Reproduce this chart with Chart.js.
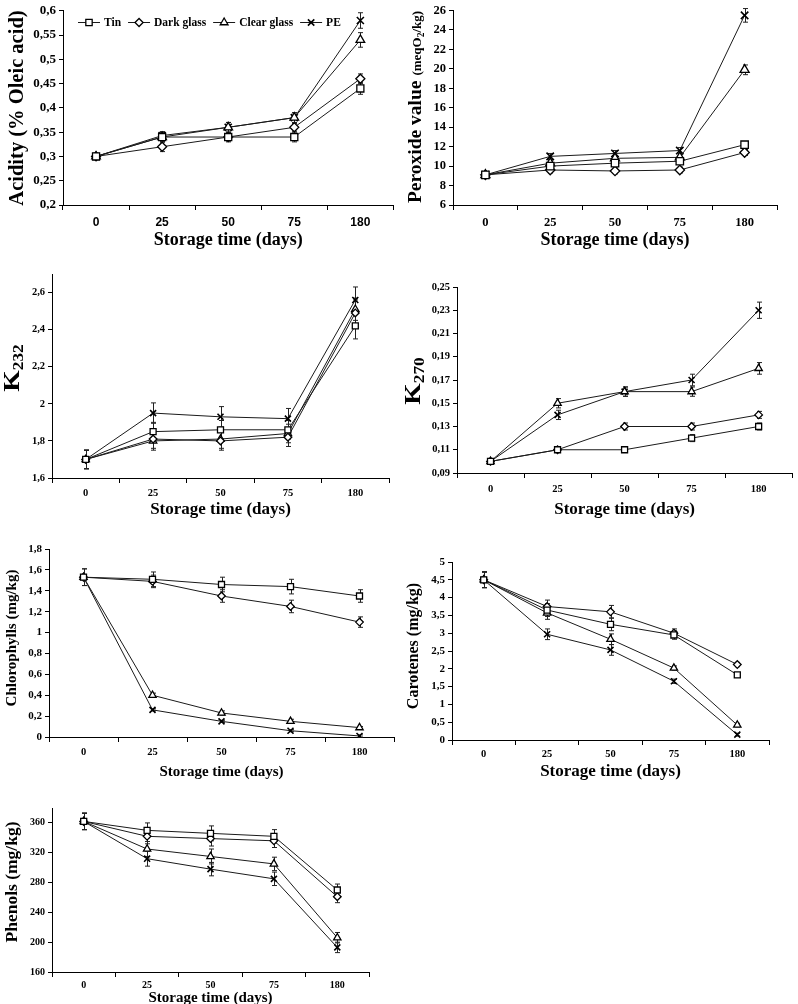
<!DOCTYPE html>
<html>
<head>
<meta charset="utf-8">
<script src="https://cdn.jsdelivr.net/npm/chart.js@4.4.0/dist/chart.umd.min.js"></script>
<style>
  body { margin: 0; background: #fff; width: 798px; height: 1004px; position: relative; overflow: hidden; }
  .panel { position: absolute; }
</style>
</head>
<body>
<div class="panel" style="left:0;top:0;width:400px;height:250px"><canvas id="acidity"></canvas></div>
<div class="panel" style="left:400px;top:0;width:398px;height:250px"><canvas id="peroxide"></canvas></div>
<div class="panel" style="left:0;top:250px;width:400px;height:270px"><canvas id="k232"></canvas></div>
<div class="panel" style="left:400px;top:250px;width:398px;height:270px"><canvas id="k270"></canvas></div>
<div class="panel" style="left:0;top:520px;width:400px;height:260px"><canvas id="chloro"></canvas></div>
<div class="panel" style="left:400px;top:520px;width:398px;height:260px"><canvas id="carot"></canvas></div>
<div class="panel" style="left:0;top:780px;width:400px;height:224px"><canvas id="phenols"></canvas></div>
<script>
// categories et séries
const days = ['0', '25', '50', '75', '180'];
const packages = ['Tin', 'Dark glass', 'Clear glass', 'PE'];

// Acidité (% acide oléique)
const acidTin   = [0.30, 0.34, 0.34, 0.34, 0.44];
const acidDark  = [0.30, 0.32, 0.34, 0.36, 0.46];
const acidClear = [0.30, 0.34, 0.36, 0.38, 0.54];
const acidPE    = [0.30, 0.343, 0.36, 0.38, 0.58];
const acidErrTin   = [0.004, 0.01, 0.01, 0.01, 0.012];
const acidErrDark  = [0.004, 0.01, 0.008, 0.008, 0.01];
const acidErrClear = [0.004, 0.01, 0.01, 0.01, 0.015];
const acidErrPE    = [0.004, 0.008, 0.01, 0.01, 0.016];
const acidTicks = ['0,2', '0,25', '0,3', '0,35', '0,4', '0,45', '0,5', '0,55', '0,6'];

// Indice de peroxyde
const peroxTin   = [9.1, 10.0, 10.3, 10.5, 12.2];
const peroxDark  = [9.1, 9.6, 9.5, 9.6, 11.4];
const peroxClear = [9.1, 10.3, 10.8, 10.9, 19.9];
const peroxPE    = [9.1, 11.0, 11.3, 11.6, 25.5];
const peroxErrTin   = [0.2, 0.3, 0.3, 0.3, 0.3];
const peroxErrDark  = [0.2, 0.3, 0.3, 0.3, 0.3];
const peroxErrClear = [0.2, 0.3, 0.3, 0.3, 0.5];
const peroxErrPE    = [0.2, 0.3, 0.3, 0.3, 0.7];
const peroxTicks = ['6', '8', '10', '12', '14', '16', '18', '20', '22', '24', '26'];

// K232
const k232Tin   = [1.70, 1.85, 1.86, 1.86, 2.42];
const k232Dark  = [1.70, 1.81, 1.80, 1.82, 2.49];
const k232Clear = [1.70, 1.80, 1.81, 1.84, 2.51];
const k232PE    = [1.70, 1.95, 1.93, 1.92, 2.56];
const k232ErrTin   = [0.05, 0.05, 0.05, 0.05, 0.07];
const k232ErrDark  = [0.05, 0.05, 0.05, 0.05, 0.07];
const k232ErrClear = [0.05, 0.05, 0.05, 0.05, 0.06];
const k232ErrPE    = [0.05, 0.055, 0.055, 0.055, 0.07];
const k232Ticks = ['1,6', '1,8', '2', '2,2', '2,4', '2,6'];

// K270
const k270Tin   = [0.10, 0.11, 0.11, 0.12, 0.13];
const k270Dark  = [0.10, 0.11, 0.13, 0.13, 0.14];
const k270Clear = [0.10, 0.15, 0.16, 0.16, 0.18];
const k270PE    = [0.10, 0.14, 0.16, 0.17, 0.23];
const k270ErrTin   = [0.002, 0.002, 0.002, 0.003, 0.003];
const k270ErrDark  = [0.002, 0.002, 0.003, 0.003, 0.003];
const k270ErrClear = [0.002, 0.004, 0.004, 0.004, 0.005];
const k270ErrPE    = [0.002, 0.004, 0.004, 0.005, 0.007];
const k270Ticks = ['0,09', '0,11', '0,13', '0,15', '0,17', '0,19', '0,21', '0,23', '0,25'];

// Chlorophylles
const chloTin   = [1.53, 1.51, 1.46, 1.44, 1.35];
const chloDark  = [1.53, 1.49, 1.35, 1.25, 1.10];
const chloClear = [1.53, 0.40, 0.23, 0.15, 0.09];
const chloPE    = [1.53, 0.26, 0.15, 0.06, 0.01];
const chloErrTin   = [0.08, 0.07, 0.07, 0.07, 0.06];
const chloErrDark  = [0.08, 0.06, 0.06, 0.06, 0.05];
const chloErrClear = [0.02, 0.02, 0.02, 0.02, 0.01];
const chloErrPE    = [0.02, 0.01, 0.01, 0.01, 0.01];
const chloTicks = ['0', '0,2', '0,4', '0,6', '0,8', '1', '1,2', '1,4', '1,6', '1,8'];

// Caroténoïdes
const caroTin   = [4.5, 3.65, 3.25, 2.95, 1.83];
const caroDark  = [4.5, 3.75, 3.60, 3.00, 2.12];
const caroClear = [4.5, 3.57, 2.83, 2.02, 0.42];
const caroPE    = [4.5, 2.97, 2.53, 1.65, 0.15];
const caroErrTin   = [0.22, 0.18, 0.18, 0.12, 0.06];
const caroErrDark  = [0.22, 0.18, 0.18, 0.12, 0.06];
const caroErrClear = [0.22, 0.18, 0.15, 0.06, 0.05];
const caroErrPE    = [0.22, 0.15, 0.15, 0.06, 0.04];
const caroTicks = ['0', '0,5', '1', '1,5', '2', '2,5', '3', '3,5', '4', '4,5', '5'];

// Phénols
const phenTin   = [362, 350, 346, 342, 270];
const phenDark  = [362, 342, 339, 336, 261];
const phenClear = [362, 325, 315, 305, 206];
const phenPE    = [362, 312, 298, 285, 193];
const phenErrTin   = [11, 10, 10, 9, 8];
const phenErrDark  = [11, 10, 10, 9, 8];
const phenErrClear = [11, 10, 10, 9, 7];
const phenErrPE    = [11, 10, 9, 9, 7];
const phenTicks = ['160', '200', '240', '280', '320', '360'];

const SERIF = '"Liberation Serif", "Times New Roman", serif';
const SANS = '"Liberation Sans", Arial, sans-serif';
const styles = ['rect', 'rectRot', 'triangle', 'crossRot'];
const radii = [5, 4.5, 5, 5];

function toNum(s) { return parseFloat(s.replace(',', '.')); }

// barres d'erreur
const errorBars = {
    id: 'errorBars',
    beforeDatasetsDraw(chart) {
        const ctx = chart.ctx;
        const y = chart.scales.y;
        ctx.save();
        ctx.strokeStyle = '#222';
        ctx.lineWidth = 1;
        chart.data.datasets.forEach((ds, i) => {
            const meta = chart.getDatasetMeta(i);
            meta.data.forEach((pt, j) => {
                const e = ds.errors[j];
                const x = Math.round(pt.x) + 0.5;
                const top = y.getPixelForValue(ds.data[j] + e);
                const bot = y.getPixelForValue(ds.data[j] - e);
                ctx.beginPath();
                ctx.moveTo(x, top); ctx.lineTo(x, bot);
                ctx.moveTo(x - 2.5, top); ctx.lineTo(x + 2.5, top);
                ctx.moveTo(x - 2.5, bot); ctx.lineTo(x + 2.5, bot);
                ctx.stroke();
            });
        });
        ctx.restore();
    }
};

function makeDatasets(series, errors, scale) {
    return series.map((data, i) => ({
        label: packages[i],
        data: data,
        errors: errors[i],
        borderColor: '#1a1a1a',
        borderWidth: 1,
        tension: 0,
        pointStyle: styles[i],
        pointRadius: radii[i] * scale,
        pointBackgroundColor: '#fff',
        pointBorderColor: '#000',
        pointBorderWidth: i === 3 ? 1.6 : 1.3
    }));
}

function buildPanel(id, p) {
    const box = p.box;
    const tickLen = 5;
    const xh = p.xTitleY - p.plot.b + 0.6 * p.xTitleSize;
    const xPad = p.xLabelY - p.plot.b - tickLen - 0.6 * p.xTickSize;
    const tickVals = p.ticks.map(toNum);

    // titre de l'axe Y (texte tourné, avec indices)
    const yTitle = {
        id: 'yTitle',
        afterDraw(chart) {
            const ctx = chart.ctx;
            ctx.save();
            ctx.translate(p.yTitle.x - box.x, p.yTitle.y - box.y);
            ctx.rotate(-Math.PI / 2);
            ctx.scale(p.yTitle.stretch || 1, 1);
            let total = 0;
            p.yTitle.parts.forEach(part => { ctx.font = part.font; total += ctx.measureText(part.text).width; });
            let cx = -total / 2;
            ctx.fillStyle = '#000';
            ctx.textAlign = 'left';
            ctx.textBaseline = 'alphabetic';
            p.yTitle.parts.forEach(part => {
                ctx.font = part.font;
                ctx.fillText(part.text, cx, part.dy || 0);
                cx += ctx.measureText(part.text).width;
            });
            ctx.restore();
        }
    };

    const plugins = [errorBars, yTitle];
    if (p.legend) plugins.push(legendPlugin(p.legend, box));

    new Chart(document.getElementById(id), {
        type: 'line',
        data: { labels: days, datasets: makeDatasets(p.series, p.errors, p.markerScale) },
        options: {
            responsive: true,
            maintainAspectRatio: false,
            animation: false,
            layout: {
                padding: {
                    left: 0,
                    top: p.plot.t - box.y,
                    right: box.x + box.w - p.plot.r,
                    bottom: box.y + box.h - p.plot.b - xh
                }
            },
            plugins: { legend: { display: false }, tooltip: { enabled: false } },
            scales: {
                x: {
                    offset: true,
                    grid: { offset: true, drawOnChartArea: false, tickLength: tickLen, color: '#000' },
                    border: { color: '#000', width: 1 },
                    ticks: {
                        color: '#000',
                        padding: xPad,
                        maxRotation: 0,
                        font: { family: p.xTickFamily || SERIF, size: p.xTickSize, weight: 'bold' }
                    },
                    title: {
                        display: true,
                        text: 'Storage time (days)',
                        color: '#000',
                        padding: 0,
                        font: { family: SERIF, size: p.xTitleSize, weight: 'bold' }
                    },
                    afterFit: s => { s.height = xh; }
                },
                y: {
                    min: p.min,
                    max: p.max,
                    grid: { drawOnChartArea: false, tickLength: 4, color: '#000' },
                    border: { color: '#000', width: 1 },
                    ticks: {
                        color: '#000',
                        padding: 3,
                        font: { family: SERIF, size: p.yTickSize, weight: 'bold' },
                        callback: v => p.ticks[tickVals.indexOf(v)] ?? ''
                    },
                    afterBuildTicks: s => { s.ticks = tickVals.map(v => ({ value: v })); },
                    afterFit: s => { s.width = p.plot.l - box.x; }
                }
            }
        },
        plugins: plugins
    });
}

// légende du premier graphique (ligne + marqueur)
function legendPlugin(lg, box) {
    return {
        id: 'lineLegend',
        afterDraw(chart) {
            const ctx = chart.ctx;
            ctx.save();
            ctx.font = 'bold ' + lg.size + 'px ' + SERIF;
            ctx.textBaseline = 'middle';
            ctx.fillStyle = '#000';
            let x = lg.x - box.x;
            const y = lg.y - box.y;
            packages.forEach((name, i) => {
                ctx.strokeStyle = '#1a1a1a';
                ctx.lineWidth = 1;
                ctx.beginPath();
                ctx.moveTo(x, y); ctx.lineTo(x + 22, y);
                ctx.stroke();
                ctx.fillStyle = '#fff';
                ctx.strokeStyle = '#000';
                ctx.lineWidth = i === 3 ? 1.6 : 1.3;
                Chart.helpers.drawPoint(ctx, { pointStyle: styles[i], radius: radii[i] * 0.9, borderWidth: ctx.lineWidth }, x + 11, y);
                ctx.fillStyle = '#000';
                ctx.fillText(name, x + 26, y + 0.5);
                x += 26 + ctx.measureText(name).width + 7;
            });
            ctx.restore();
        }
    };
}

const big = sz => 'bold ' + sz + 'px ' + SERIF;

buildPanel('acidity', {
    box: { x: 0, y: 0, w: 400, h: 250 },
    plot: { l: 63, t: 9.5, r: 396, b: 205 },
    min: 0.2, max: 0.6, ticks: acidTicks,
    series: [acidTin, acidDark, acidClear, acidPE],
    errors: [acidErrTin, acidErrDark, acidErrClear, acidErrPE],
    markerScale: 1,
    yTickSize: 13, xTickSize: 12, xTickFamily: SANS, xLabelY: 223,
    xTitleSize: 18, xTitleY: 240,
    yTitle: { x: 23, y: 108, parts: [{ text: 'Acidity (% Oleic acid)', font: big(20.5) }] }
    , legend: { x: 78, y: 22.5, size: 11.5 }
});

buildPanel('peroxide', {
    box: { x: 400, y: 0, w: 398, h: 250 },
    plot: { l: 453, t: 8, r: 777, b: 205 },
    min: 6, max: 26, ticks: peroxTicks,
    series: [peroxTin, peroxDark, peroxClear, peroxPE],
    errors: [peroxErrTin, peroxErrDark, peroxErrClear, peroxErrPE],
    markerScale: 1.05,
    yTickSize: 12.5, xTickSize: 12.5, xLabelY: 223,
    xTitleSize: 18, xTitleY: 240,
    yTitle: { x: 421, y: 107, parts: [
        { text: 'Peroxide value ', font: big(19.5) },
        { text: '(meqO', font: big(13) },
        { text: '2', font: big(9.5), dy: 3 },
        { text: '/kg)', font: big(13) }
    ] }
});

buildPanel('k232', {
    box: { x: 0, y: 250, w: 400, h: 270 },
    plot: { l: 52, t: 274, r: 389, b: 478 },
    min: 1.6, max: 2.7, ticks: k232Ticks,
    series: [k232Tin, k232Dark, k232Clear, k232PE],
    errors: [k232ErrTin, k232ErrDark, k232ErrClear, k232ErrPE],
    markerScale: 0.85,
    yTickSize: 10.5, xTickSize: 10.5, xLabelY: 493,
    xTitleSize: 17, xTitleY: 510,
    yTitle: { x: 19, y: 368, stretch: 1.15, parts: [
        { text: 'K', font: big(24) },
        { text: '232', font: big(15), dy: 4 }
    ] }
});

buildPanel('k270', {
    box: { x: 400, y: 250, w: 398, h: 270 },
    plot: { l: 457, t: 287, r: 797, b: 473 },
    min: 0.09, max: 0.25, ticks: k270Ticks,
    series: [k270Tin, k270Dark, k270Clear, k270PE],
    errors: [k270ErrTin, k270ErrDark, k270ErrClear, k270ErrPE],
    markerScale: 0.85,
    yTickSize: 10.5, xTickSize: 10.5, xLabelY: 489,
    xTitleSize: 17, xTitleY: 510,
    yTitle: { x: 420, y: 381, stretch: 1.15, parts: [
        { text: 'K', font: big(24) },
        { text: '270', font: big(15), dy: 4 }
    ] }
});

buildPanel('chloro', {
    box: { x: 0, y: 520, w: 400, h: 260 },
    plot: { l: 49, t: 549, r: 394, b: 737 },
    min: 0, max: 1.8, ticks: chloTicks,
    series: [chloTin, chloDark, chloClear, chloPE],
    errors: [chloErrTin, chloErrDark, chloErrClear, chloErrPE],
    markerScale: 0.85,
    yTickSize: 11, xTickSize: 10.5, xLabelY: 752,
    xTitleSize: 15, xTitleY: 772,
    yTitle: { x: 16, y: 638, parts: [{ text: 'Chlorophylls (mg/kg)', font: big(15) }] }
});

buildPanel('carot', {
    box: { x: 400, y: 520, w: 398, h: 260 },
    plot: { l: 452, t: 562, r: 769, b: 740 },
    min: 0, max: 5, ticks: caroTicks,
    series: [caroTin, caroDark, caroClear, caroPE],
    errors: [caroErrTin, caroErrDark, caroErrClear, caroErrPE],
    markerScale: 0.85,
    yTickSize: 11, xTickSize: 10.5, xLabelY: 754,
    xTitleSize: 17, xTitleY: 772,
    yTitle: { x: 418, y: 646, parts: [{ text: 'Carotenes (mg/kg)', font: big(16) }] }
});

buildPanel('phenols', {
    box: { x: 0, y: 780, w: 400, h: 224 },
    plot: { l: 52, t: 808, r: 369, b: 972 },
    min: 160, max: 380, ticks: phenTicks,
    series: [phenTin, phenDark, phenClear, phenPE],
    errors: [phenErrTin, phenErrDark, phenErrClear, phenErrPE],
    markerScale: 0.85,
    yTickSize: 10, xTickSize: 10, xLabelY: 985,
    xTitleSize: 15, xTitleY: 998,
    yTitle: { x: 17, y: 882, parts: [{ text: 'Phenols (mg/kg)', font: big(17.5) }] }
});
</script>
</body>
</html>
